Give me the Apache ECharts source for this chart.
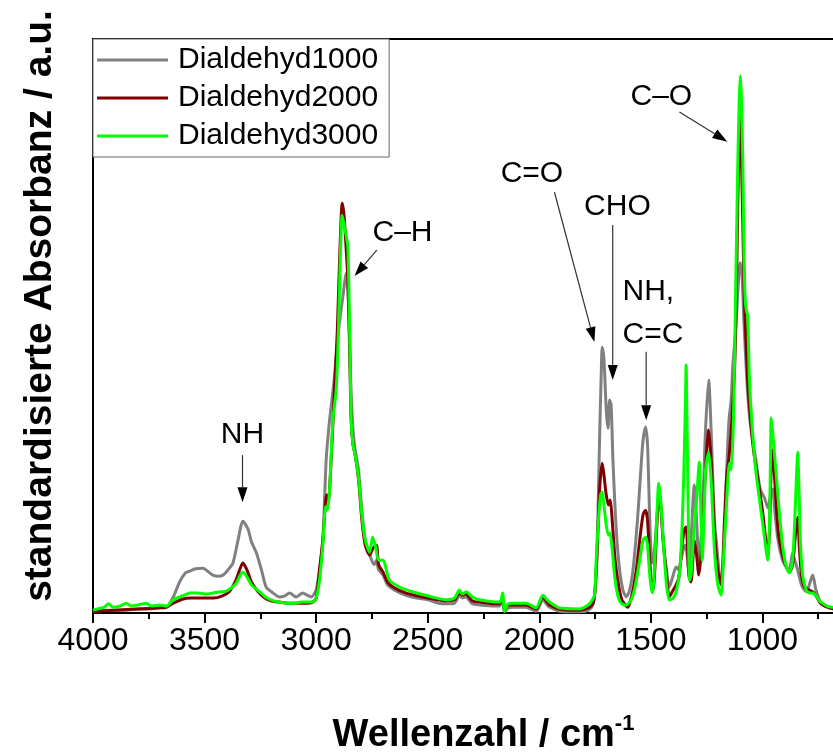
<!DOCTYPE html>
<html>
<head>
<meta charset="utf-8">
<script src="https://cdn.jsdelivr.net/npm/echarts@6/dist/echarts.min.js"></script>
<style>
  html, body { margin: 0; padding: 0; background: #fff; }
  #chart { width: 833px; height: 753px; }
</style>
</head>
<body>
<div id="chart"></div>
<script>
// FTIR spectra, normalised absorbance (a.u.) vs. wavenumber (cm^-1)
const seriesNames = ['Dialdehyd1000', 'Dialdehyd2000', 'Dialdehyd3000'];
const seriesColors = ['#808080', '#800000', '#00ff00'];

const wavenumberTicks = [4000, 3500, 3000, 2500, 2000, 1500, 1000];

// [wavenumber, absorbance]
const dialdehyd1000 = [
  [4000,0.003],[3950,0.005],[3900,0.005],[3850,0.005],[3800,0.007],[3750,0.007],[3700,0.009],[3672,0.010],
  [3640,0.028],[3612,0.054],[3585,0.070],[3567,0.073],[3540,0.077],[3508,0.078],[3480,0.071],[3463,0.066],
  [3440,0.064],[3418,0.066],[3395,0.075],[3373,0.087],[3350,0.127],[3328,0.160],[3305,0.146],[3290,0.124],
  [3268,0.105],[3245,0.075],[3224,0.045],[3200,0.037],[3164,0.028],[3140,0.030],[3119,0.035],[3100,0.030],
  [3089,0.028],[3060,0.035],[3040,0.031],[3022,0.028],[3000,0.040],[2985,0.075],[2970,0.127],[2955,0.267],
  [2940,0.336],[2932,0.362],[2920,0.404],[2900,0.491],[2880,0.552],[2865,0.592],[2855,0.545],[2845,0.406],
  [2835,0.319],[2825,0.284],[2810,0.249],[2795,0.179],[2780,0.127],[2760,0.101],[2740,0.084],[2730,0.092],
  [2720,0.075],[2700,0.066],[2680,0.049],[2650,0.040],[2600,0.031],[2550,0.026],[2500,0.023],[2450,0.017],
  [2420,0.016],[2380,0.017],[2358,0.030],[2345,0.026],[2330,0.028],[2300,0.016],[2268,0.014],[2200,0.012],
  [2178,0.012],[2164,0.023],[2156,0.002],[2140,0.009],[2120,0.010],[2060,0.010],[2014,0.003],[1984,0.023],
  [1965,0.014],[1954,0.010],[1910,0.003],[1850,0.002],[1820,0.002],[1780,0.005],[1760,0.014],[1750,0.040],
  [1740,0.127],[1730,0.301],[1722,0.423],[1718,0.463],[1710,0.441],[1700,0.354],[1692,0.322],[1685,0.371],
  [1678,0.362],[1670,0.267],[1655,0.145],[1640,0.075],[1625,0.040],[1610,0.028],[1595,0.040],[1580,0.075],
  [1560,0.162],[1545,0.249],[1535,0.301],[1524,0.324],[1515,0.293],[1505,0.162],[1497,0.092],[1492,0.087],
  [1480,0.127],[1470,0.179],[1462,0.197],[1455,0.179],[1445,0.127],[1430,0.075],[1417,0.045],[1400,0.066],
  [1387,0.080],[1375,0.075],[1365,0.092],[1355,0.110],[1345,0.118],[1330,0.075],[1305,0.223],[1295,0.162],
  [1285,0.092],[1270,0.162],[1255,0.319],[1241,0.406],[1230,0.319],[1215,0.162],[1205,0.118],[1195,0.075],
  [1185,0.049],[1170,0.127],[1160,0.249],[1150,0.336],[1140,0.371],[1133,0.429],[1120,0.493],[1108,0.575],
  [1100,0.610],[1092,0.592],[1083,0.509],[1070,0.406],[1058,0.343],[1045,0.303],[1030,0.268],[1010,0.216],
  [990,0.200],[975,0.183],[965,0.200],[954,0.216],[945,0.179],[930,0.127],[910,0.092],[890,0.078],
  [879,0.075],[865,0.105],[855,0.092],[842,0.075],[825,0.049],[804,0.037],[790,0.049],[775,0.066],
  [760,0.040],[740,0.019],[720,0.012],[700,0.009],[680,0.007],[650,0.005]
];

const dialdehyd2000 = [
  [4000,0.003],[3900,0.005],[3800,0.007],[3700,0.009],[3672,0.010],[3640,0.017],[3600,0.024],[3560,0.026],
  [3508,0.026],[3460,0.026],[3420,0.030],[3390,0.037],[3360,0.057],[3340,0.078],[3328,0.087],[3310,0.075],
  [3290,0.054],[3260,0.037],[3230,0.026],[3200,0.021],[3164,0.019],[3120,0.017],[3080,0.017],[3040,0.017],
  [3015,0.019],[3000,0.026],[2985,0.075],[2970,0.127],[2953,0.206],[2945,0.197],[2935,0.249],[2920,0.371],
  [2905,0.493],[2895,0.615],[2883,0.714],[2875,0.693],[2865,0.632],[2858,0.582],[2850,0.458],[2843,0.336],
  [2835,0.294],[2825,0.275],[2810,0.232],[2795,0.162],[2780,0.118],[2760,0.101],[2745,0.113],[2730,0.118],
  [2720,0.084],[2700,0.071],[2680,0.054],[2650,0.044],[2600,0.035],[2550,0.030],[2500,0.026],[2450,0.023],
  [2420,0.021],[2380,0.023],[2358,0.035],[2345,0.031],[2330,0.033],[2300,0.021],[2268,0.019],[2200,0.016],
  [2178,0.016],[2164,0.028],[2156,0.003],[2140,0.014],[2120,0.014],[2060,0.014],[2014,0.007],[1984,0.028],
  [1965,0.019],[1954,0.014],[1910,0.007],[1850,0.005],[1820,0.005],[1780,0.009],[1760,0.016],[1750,0.040],
  [1740,0.110],[1730,0.214],[1718,0.261],[1710,0.240],[1700,0.206],[1690,0.188],[1682,0.197],[1675,0.171],
  [1660,0.092],[1645,0.049],[1630,0.023],[1610,0.012],[1604,0.010],[1595,0.017],[1580,0.040],[1565,0.075],
  [1550,0.127],[1535,0.171],[1524,0.179],[1515,0.162],[1505,0.092],[1497,0.049],[1490,0.040],[1480,0.092],
  [1470,0.179],[1463,0.209],[1455,0.188],[1445,0.127],[1430,0.066],[1417,0.028],[1400,0.040],[1387,0.049],
  [1375,0.061],[1360,0.118],[1350,0.145],[1342,0.150],[1330,0.066],[1320,0.054],[1305,0.127],[1295,0.101],
  [1285,0.066],[1270,0.127],[1255,0.249],[1241,0.319],[1230,0.267],[1215,0.145],[1200,0.075],[1185,0.049],
  [1170,0.162],[1160,0.240],[1150,0.270],[1140,0.319],[1125,0.423],[1117,0.547],[1110,0.721],[1100,0.864],
  [1090,0.721],[1081,0.547],[1066,0.406],[1055,0.345],[1040,0.284],[1020,0.232],[1000,0.179],[985,0.127],
  [976,0.101],[968,0.145],[961,0.249],[954,0.284],[945,0.232],[930,0.145],[910,0.101],[890,0.078],
  [879,0.071],[865,0.084],[850,0.145],[842,0.167],[835,0.118],[825,0.066],[810,0.044],[790,0.040],
  [775,0.037],[760,0.030],[740,0.017],[720,0.012],[700,0.009],[680,0.007],[650,0.005]
];

const dialdehyd3000 = [
  [4000,0.005],[3980,0.007],[3950,0.010],[3930,0.016],[3910,0.010],[3880,0.012],[3850,0.017],[3830,0.012],
  [3800,0.014],[3760,0.017],[3740,0.012],[3700,0.014],[3672,0.012],[3640,0.023],[3612,0.028],[3590,0.031],
  [3567,0.035],[3530,0.035],[3490,0.033],[3463,0.035],[3430,0.037],[3403,0.038],[3380,0.044],[3358,0.052],
  [3340,0.066],[3328,0.071],[3310,0.063],[3290,0.049],[3254,0.037],[3220,0.026],[3190,0.021],[3164,0.019],
  [3130,0.017],[3104,0.017],[3060,0.019],[3015,0.019],[3000,0.026],[2985,0.057],[2970,0.118],[2958,0.185],
  [2950,0.179],[2940,0.214],[2925,0.336],[2910,0.389],[2900,0.493],[2892,0.617],[2883,0.693],[2870,0.667],
  [2858,0.638],[2850,0.493],[2843,0.336],[2835,0.294],[2825,0.275],[2810,0.235],[2795,0.171],[2780,0.127],
  [2760,0.106],[2747,0.132],[2735,0.118],[2720,0.092],[2701,0.092],[2671,0.057],[2620,0.044],[2568,0.037],
  [2500,0.030],[2417,0.023],[2380,0.026],[2358,0.040],[2345,0.033],[2328,0.037],[2300,0.028],[2268,0.023],
  [2178,0.019],[2164,0.035],[2156,0.003],[2140,0.016],[2120,0.017],[2059,0.017],[2014,0.009],[1984,0.031],
  [1965,0.023],[1954,0.019],[1910,0.009],[1820,0.007],[1775,0.016],[1753,0.031],[1745,0.092],[1735,0.162],
  [1725,0.206],[1718,0.211],[1710,0.188],[1700,0.153],[1690,0.136],[1683,0.139],[1675,0.118],[1660,0.057],
  [1645,0.026],[1630,0.016],[1610,0.014],[1595,0.019],[1580,0.031],[1565,0.057],[1550,0.092],[1535,0.127],
  [1524,0.132],[1515,0.118],[1505,0.066],[1497,0.040],[1492,0.035],[1480,0.110],[1470,0.197],[1465,0.226],
  [1458,0.206],[1450,0.162],[1440,0.101],[1430,0.049],[1417,0.023],[1400,0.026],[1385,0.040],[1370,0.075],
  [1360,0.151],[1352,0.249],[1345,0.371],[1342,0.432],[1338,0.336],[1332,0.162],[1327,0.057],[1320,0.066],
  [1310,0.127],[1295,0.197],[1283,0.263],[1275,0.162],[1270,0.092],[1262,0.162],[1255,0.249],[1241,0.280],
  [1230,0.232],[1215,0.110],[1200,0.049],[1185,0.031],[1175,0.092],[1160,0.197],[1148,0.261],[1140,0.249],
  [1130,0.336],[1120,0.563],[1117,0.632],[1110,0.789],[1104,0.894],[1099,0.936],[1094,0.894],[1088,0.789],
  [1083,0.632],[1077,0.544],[1070,0.523],[1066,0.519],[1058,0.406],[1045,0.319],[1030,0.249],[1013,0.197],
  [995,0.145],[976,0.092],[968,0.162],[963,0.301],[961,0.340],[955,0.319],[950,0.296],[940,0.249],
  [925,0.179],[910,0.118],[895,0.084],[879,0.070],[865,0.092],[855,0.162],[848,0.232],[842,0.280],
  [836,0.214],[830,0.127],[820,0.066],[804,0.040],[790,0.035],[775,0.035],[760,0.030],[740,0.019],
  [731,0.017],[710,0.012],[687,0.010],[650,0.009]
];

// Peak assignments: label, label anchor [wavenumber, absorbance], arrow from/to
const annotationLabels = ['NH', 'C\u2013H', 'C=O', 'CHO', 'NH,\nC=C', 'C\u2013O'];
const annotationAnchors = [[3330,0.310],[2613,0.662],[2033,0.765],[1650,0.707],[1627,0.522],[1453,0.899]];
const annotationAlign = ['center', 'center', 'center', 'center', 'left', 'center'];
const arrowSegments = [
  [3330,0.275,3330,0.193],
  [2728,0.632,2828,0.587],
  [1932,0.733,1753,0.472],
  [1671,0.676,1671,0.406],
  [1521,0.455,1521,0.336],
  [1372,0.873,1157,0.821]
];

const FONT = '"Liberation Sans", Arial, Helvetica, sans-serif';

const chart = echarts.init(document.getElementById('chart'), null, { renderer: 'canvas' });

const spectra = [dialdehyd1000, dialdehyd2000, dialdehyd3000];

const lineSeries = spectra.map((d, i) => ({
  name: seriesNames[i],
  type: 'line',
  data: d,
  symbol: 'none',
  smooth: 0.25,
  clip: true,
  z: 2 + i,
  lineStyle: { color: seriesColors[i], width: 3 },
  itemStyle: { color: seriesColors[i] }
}));

const arrowSeries = {
  type: 'custom',
  name: 'arrows',
  silent: true,
  clip: false,
  z: 10,
  encode: { x: [0, 2], y: [1, 3] },
  data: arrowSegments,
  renderItem: function (params, api) {
    const p1 = api.coord([api.value(0), api.value(1)]);
    const p2 = api.coord([api.value(2), api.value(3)]);
    const dx = p2[0] - p1[0], dy = p2[1] - p1[1];
    const len = Math.sqrt(dx * dx + dy * dy);
    const ux = dx / len, uy = dy / len;
    const headLen = 15, headHalf = 5;
    const bx = p2[0] - ux * headLen, by = p2[1] - uy * headLen;
    return {
      type: 'group',
      children: [
        {
          type: 'line',
          shape: { x1: p1[0], y1: p1[1], x2: bx, y2: by },
          style: { stroke: '#333', lineWidth: 1.2 }
        },
        {
          type: 'polygon',
          shape: { points: [[p2[0], p2[1]], [bx - uy * headHalf, by + ux * headHalf], [bx + uy * headHalf, by - ux * headHalf]] },
          style: { fill: '#000' }
        }
      ]
    };
  }
};

const labelSeries = {
  type: 'custom',
  name: 'labels',
  silent: true,
  clip: false,
  z: 10,
  encode: { x: 0, y: 1 },
  data: annotationAnchors.map((a, i) => [a[0], a[1], i]),
  renderItem: function (params, api) {
    const idx = api.value(2);
    const p = api.coord([api.value(0), api.value(1)]);
    return {
      type: 'text',
      x: p[0],
      y: p[1],
      style: {
        text: annotationLabels[idx],
        font: '30px ' + FONT,
        fill: '#000',
        align: annotationAlign[idx],
        verticalAlign: 'middle',
        lineHeight: 43
      }
    };
  }
};

chart.setOption({
  backgroundColor: '#fff',
  animation: false,
  grid: {
    left: 93,
    top: 39,
    width: 781,
    height: 574,
    outerBoundsMode: 'none',
    containLabel: false,
    show: true,
    borderColor: '#000',
    borderWidth: 2,
    backgroundColor: 'transparent'
  },
  legend: {
    data: seriesNames,
    orient: 'vertical',
    left: 93,
    top: 39,
    backgroundColor: '#fff',
    borderColor: '#666',
    borderWidth: 1,
    padding: [4, 11, 4, 4],
    icon: 'rect',
    itemWidth: 71,
    itemHeight: 3,
    itemGap: 4,
    z: 20,
    textStyle: { fontFamily: FONT, fontSize: 30, color: '#000', lineHeight: 34, padding: [0, 0, 0, 5] }
  },
  xAxis: {
    type: 'value',
    inverse: true,
    min: 500,
    max: 4000,
    interval: 500,
    name: '{t|Wellenzahl / cm}{s|-1}',
    nameLocation: 'middle',
    nameGap: 100,
    nameTextStyle: {
      rich: {
        t: { fontFamily: FONT, fontSize: 38, fontWeight: 'bold', color: '#000', lineHeight: 46 },
        s: { fontFamily: FONT, fontSize: 22, fontWeight: 'bold', color: '#000', verticalAlign: 'top', lineHeight: 46, padding: [0, 0, 18, 0] }
      }
    },
    axisLine: { show: true, onZero: false, lineStyle: { color: '#000', width: 2 } },
    axisTick: { show: true, inside: false, length: 10, lineStyle: { color: '#000', width: 2 } },
    minorTick: { show: true, splitNumber: 2, length: 6, lineStyle: { color: '#000', width: 2 } },
    axisLabel: {
      fontFamily: FONT, fontSize: 32, color: '#000', margin: 12,
      formatter: v => (wavenumberTicks.indexOf(v) >= 0 ? String(v) : '')
    },
    splitLine: { show: false }
  },
  yAxis: {
    type: 'value',
    min: 0,
    max: 1,
    axisLine: { show: true, onZero: false, lineStyle: { color: '#000', width: 2 } },
    axisTick: { show: false },
    axisLabel: { show: false },
    splitLine: { show: false }
  },
  graphic: [{
    type: 'text',
    x: 40,
    y: 306,
    rotation: Math.PI / 2,
    style: {
      text: 'standardisierte Absorbanz / a.u.',
      font: 'bold 39px ' + FONT,
      fill: '#000',
      align: 'center',
      verticalAlign: 'middle'
    }
  }],
  series: lineSeries.concat([arrowSeries, labelSeries])
});
</script>
</body>
</html>
